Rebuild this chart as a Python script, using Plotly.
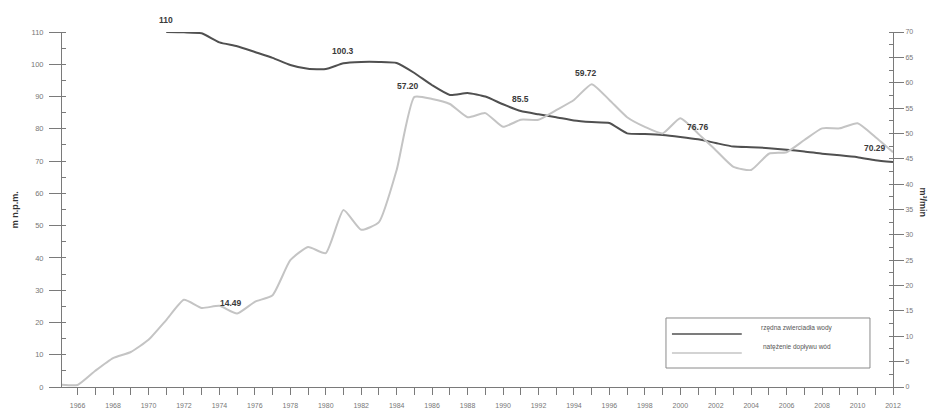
import plotly.graph_objects as go

# Water table elevation (m a.s.l.), left axis
level_years = list(range(1971, 2013))
level_values = [
    110.0, 109.9, 109.6, 106.8, 105.6, 103.8, 102.0, 99.8, 98.6, 98.5,
    100.3, 100.7, 100.7, 100.4, 97.3, 93.5, 90.5, 91.1, 90.0, 87.6,
    85.5, 84.5, 83.6, 82.6, 82.1, 81.8, 78.6, 78.4, 78.1, 77.5,
    76.76, 75.6, 74.5, 74.3, 74.0, 73.5, 73.0, 72.3, 71.8, 71.2,
    70.29, 69.7,
]

# Inflow rate (m3/min), right axis
inflow_years = list(range(1965, 2013))
inflow_values = [
    0.5, 0.4, 3.2, 5.7, 6.9, 9.3, 13.2, 17.2, 15.6, 16.0,
    14.49, 16.8, 18.1, 25.0, 27.6, 26.4, 34.9, 31.0, 32.5, 42.8,
    57.2, 56.8, 55.8, 53.2, 54.0, 51.3, 52.7, 52.7, 54.6, 56.6,
    59.72, 56.6, 53.2, 51.3, 50.0, 53.0, 50.0, 46.7, 43.4, 42.8,
    46.0, 46.3, 48.7, 51.0, 51.0, 52.0, 49.3, 46.3,
]

# Years whose values are written on the chart
level_labelled = [1971, 1981, 1991, 2001, 2011]
inflow_labelled = [1975, 1985, 1995]

x_tick_years = list(range(1966, 2013, 2))

legend_names = ["rzędna zwierciadła wody", "natężenie dopływu wód"]
left_title = "m n.p.m."
right_title = "m³/min"

LEVEL_COLOR = "#505050"
INFLOW_COLOR = "#c4c4c4"
AXIS_COLOR = "#7a7a7a"
FONT_FAMILY = "Liberation Sans, Arial, sans-serif"
TICK_FONT = dict(family=FONT_FAMILY, size=7, color="#777777")

fig = go.Figure()

fig.add_trace(go.Scatter(
    x=inflow_years, y=inflow_values, yaxis="y2", mode="lines",
    line=dict(color=INFLOW_COLOR, width=2, shape="spline", smoothing=0.5),
    name=legend_names[1], showlegend=False,
))
fig.add_trace(go.Scatter(
    x=level_years, y=level_values, yaxis="y", mode="lines",
    line=dict(color=LEVEL_COLOR, width=2, shape="spline", smoothing=0.5),
    name=legend_names[0], showlegend=False,
))

label_font = dict(family=FONT_FAMILY, size=8.5, color="#3a3a3a")
annotations = []
for yr in level_labelled:
    v = level_values[level_years.index(yr)]
    annotations.append(dict(
        x=yr, y=v, xref="x", yref="y", text=f"<b>{v:g}</b>", showarrow=False,
        yshift=12, font=label_font,
    ))
for yr in inflow_labelled:
    v = inflow_values[inflow_years.index(yr)]
    annotations.append(dict(
        x=yr, y=v, xref="x", yref="y2", text=f"<b>{v:.2f}</b>", showarrow=False,
        yshift=11, xshift=-6, font=label_font,
    ))

# Axis titles
title_font = dict(family=FONT_FAMILY, size=9, color="#333333")
annotations.append(dict(
    x=-0.057, y=0.5, xref="paper", yref="paper", text=f"<b>{left_title}</b>",
    showarrow=False, textangle=-90, xanchor="center", font=title_font,
))
annotations.append(dict(
    x=1.036, y=0.52, xref="paper", yref="paper", text=f"<b>{right_title}</b>",
    showarrow=False, textangle=90, xanchor="center", font=title_font,
))

# Legend text
legend_font = dict(family=FONT_FAMILY, size=6.5, color="#555555")
annotations.append(dict(x=0.8845, y=0.149, xref="paper", yref="paper", text=legend_names[0],
                        showarrow=False, xanchor="center", font=legend_font))
annotations.append(dict(x=0.8845, y=0.0958, xref="paper", yref="paper", text=legend_names[1],
                        showarrow=False, xanchor="center", font=legend_font))

shapes = [
    dict(type="rect", xref="paper", yref="paper", x0=0.7268, x1=0.9723, y0=0.0535, y1=0.1944,
         line=dict(color="#8a8a8a", width=1), fillcolor="rgba(255,255,255,0)"),
    dict(type="line", xref="paper", yref="paper", x0=0.734, x1=0.818, y0=0.149, y1=0.149,
         line=dict(color=LEVEL_COLOR, width=1.5)),
    dict(type="line", xref="paper", yref="paper", x0=0.734, x1=0.818, y0=0.0958, y1=0.0958,
         line=dict(color=INFLOW_COLOR, width=1.5)),
]

fig.update_layout(
    width=929, height=410,
    margin=dict(l=62, r=36, t=32, b=23, autoexpand=False),
    paper_bgcolor="white", plot_bgcolor="white",
    showlegend=False,
    xaxis=dict(
        range=[1965.12, 2012], tickmode="array", tickvals=x_tick_years,
        ticktext=[str(y) for y in x_tick_years],
        ticks="outside", ticklen=7, tickcolor=AXIS_COLOR, tickwidth=1,
        minor=dict(dtick=1, tick0=1965, ticks="outside", ticklen=7, tickcolor=AXIS_COLOR),
        showline=True, linecolor=AXIS_COLOR, linewidth=1,
        showgrid=False, zeroline=False, tickfont=TICK_FONT, ticklabelstandoff=5,
        automargin=False,
    ),
    yaxis=dict(
        range=[0, 110], dtick=10, tick0=0,
        ticks="outside", ticklen=12, tickcolor=AXIS_COLOR, tickwidth=1,
        minor=dict(dtick=5, ticks="inside", ticklen=4, tickcolor=AXIS_COLOR),
        showline=True, linecolor=AXIS_COLOR, linewidth=1,
        showgrid=False, zeroline=False, tickfont=dict(TICK_FONT, size=7.5),
        ticklabelstandoff=4, automargin=False,
    ),
    yaxis2=dict(
        range=[0, 70], dtick=5, tick0=0, overlaying="y", side="right",
        ticks="outside", ticklen=10, tickcolor=AXIS_COLOR, tickwidth=1,
        minor=dict(dtick=2.5, ticks="inside", ticklen=4, tickcolor=AXIS_COLOR),
        showline=True, linecolor=AXIS_COLOR, linewidth=1,
        showgrid=False, zeroline=False, tickfont=TICK_FONT, automargin=False,
    ),
    annotations=annotations,
    shapes=shapes,
)

fig.write_html("out.html")
